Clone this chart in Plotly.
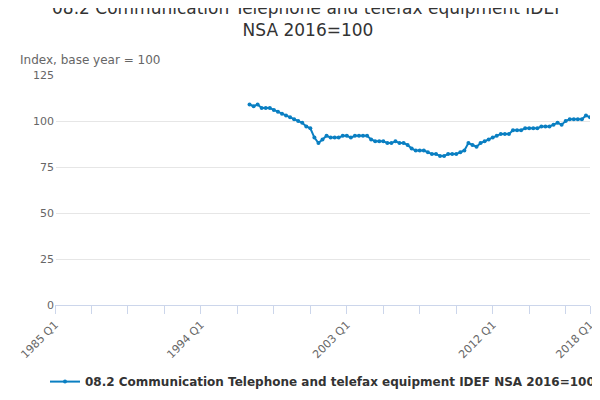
import plotly.graph_objects as go

# quarterly index, 1997 Q1 .. 2018 Q1
start_year = 1997
values = [
    109, 108, 109, 107,
    107, 107, 106, 105,
    104, 103, 102, 101,
    100, 99, 97, 96,
    91, 88, 90, 92,
    91, 91, 91, 92,
    92, 91, 92, 92,
    92, 92, 90, 89,
    89, 89, 88, 88,
    89, 88, 88, 87,
    85, 84, 84, 84,
    83, 82, 82, 81,
    81, 82, 82, 82,
    83, 84, 88, 87,
    86, 88, 89, 90,
    91, 92, 93, 93,
    93, 95, 95, 95,
    96, 96, 96, 96,
    97, 97, 97, 98,
    99, 98, 100, 101,
    101, 101, 101, 103,
    102,
]
label_quarters = ["1985 Q1", "1994 Q1", "2003 Q1", "2012 Q1", "2018 Q1"]
series_name = "08.2 Communication Telephone and telefax equipment IDEF NSA 2016=100"


def q_index(year, q):
    return (year - 1985) * 4 + (q - 1)


x = [q_index(start_year, 1) + i for i in range(len(values))]
hover = [f"{start_year + i // 4} Q{i % 4 + 1}" for i in range(len(values))]

tickvals = list(range(0, 133, 9))
ticktext = [""] * len(tickvals)
for lab in label_quarters:
    y = int(lab[:4])
    idx = q_index(y, 1)
    if idx in tickvals:
        ticktext[tickvals.index(idx)] = lab
    else:
        tickvals.append(idx)
        ticktext.append(lab)

fig = go.Figure()
fig.add_trace(go.Scatter(
    x=x, y=values, name=series_name, mode="lines+markers",
    text=hover, hovertemplate="%{text}: %{y}<extra></extra>",
    line=dict(color="#0a7fc2", width=2),
    marker=dict(size=4, color="#0a7fc2"),
))

fig.update_layout(
    width=600, height=400,
    title=dict(text="08.2 Communication Telephone and telefax equipment IDEF<br>NSA 2016=100",
               x=0.5, xanchor="center", y=0.985, yanchor="top",
               font=dict(size=17, color="#333")),
    font=dict(family="DejaVu Sans, sans-serif", color="#666"),
    plot_bgcolor="white", paper_bgcolor="white",
    margin=dict(l=47, r=18, t=67, b=103),
    showlegend=True,
    legend=dict(orientation="h", x=0.5, xanchor="center", y=-0.27, yanchor="top",
                font=dict(size=12, color="#333", weight="bold")),
    annotations=[
        dict(text="Index, base year = 100", xref="paper", yref="paper", x=-0.07, y=1.025,
             xanchor="left", yanchor="bottom", showarrow=False, font=dict(size=12, color="#666")),
        dict(text="Source:", xref="paper", yref="paper", x=1.03, y=-0.4,
             xanchor="right", yanchor="top", showarrow=False, font=dict(size=12, color="#666")),
    ],
)
fig.update_xaxes(range=[0, 132], tickvals=tickvals, ticktext=ticktext, tickangle=-45,
                 showgrid=False, showline=True, linecolor="#ccd6eb", automargin=False,
                 ticks="outside", ticklen=8, tickcolor="#ccd6eb", tickfont=dict(size=11))
fig.update_yaxes(range=[0, 125], tickvals=[0, 25, 50, 75, 100, 125], showgrid=True,
                 gridcolor="#e6e6e6", zeroline=False, tickfont=dict(size=11), automargin=False)

fig.write_html("out.html")
